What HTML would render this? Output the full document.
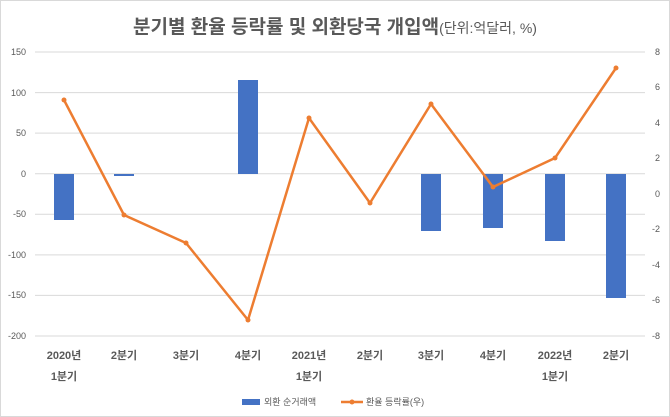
<!DOCTYPE html><html><head><meta charset="utf-8"><style>body{margin:0;background:#fff}svg{display:block;font-family:"Liberation Sans","Noto Sans CJK KR",sans-serif}</style></head><body>
<svg width="670" height="417" viewBox="0 0 670 417">
<rect x="0.5" y="0.5" width="669" height="416" fill="#fff" stroke="#d9d9d9"/>
<text x="335" y="33" text-anchor="middle" font-size="19" font-weight="bold" fill="#595959">분기별 환율 등락률 및 외환당국 개입액<tspan font-size="14" font-weight="normal">(단위:억달러, %)</tspan></text>
<g stroke="#d9d9d9" stroke-width="1">
<line x1="35" x2="645" y1="52" y2="52"/><line x1="35" x2="645" y1="92.6" y2="92.6"/><line x1="35" x2="645" y1="133.1" y2="133.1"/><line x1="35" x2="645" y1="173.7" y2="173.7"/><line x1="35" x2="645" y1="214.3" y2="214.3"/><line x1="35" x2="645" y1="254.9" y2="254.9"/><line x1="35" x2="645" y1="295.4" y2="295.4"/><line x1="35" x2="645" y1="336" y2="336"/>
</g>
<g font-size="9" fill="#595959" text-anchor="end">
<text x="26" y="55">150</text><text x="26" y="96">100</text><text x="26" y="136">50</text><text x="26" y="177">0</text><text x="26" y="217">-50</text><text x="26" y="258">-100</text><text x="26" y="298">-150</text><text x="26" y="339">-200</text>
</g>
<g font-size="9" fill="#595959" text-anchor="end">
<text x="660" y="55">8</text><text x="660" y="90">6</text><text x="660" y="126">4</text><text x="660" y="161">2</text><text x="660" y="197">0</text><text x="660" y="232">-2</text><text x="660" y="268">-4</text><text x="660" y="303">-6</text><text x="660" y="339">-8</text>
</g>
<g fill="#4472c4">
<rect x="54" y="174" width="20" height="46"/>
<rect x="114" y="174" width="20" height="2"/>
<rect x="238" y="80" width="20" height="94"/>
<rect x="421" y="174" width="20" height="57"/>
<rect x="483" y="174" width="20" height="54"/>
<rect x="545" y="174" width="20" height="67"/>
<rect x="606" y="174" width="20" height="124"/>
</g>
<polyline fill="none" stroke="#ed7d31" stroke-width="2.5" stroke-linejoin="round" points="64,100 124,215 186,243 248,320 309,118 370,203 431,104 493,187 555,158 616,68"/>
<g fill="#ed7d31"><circle cx="64" cy="100" r="2.5"/><circle cx="124" cy="215" r="2.5"/><circle cx="186" cy="243" r="2.5"/><circle cx="248" cy="320" r="2.5"/><circle cx="309" cy="118" r="2.5"/><circle cx="370" cy="203" r="2.5"/><circle cx="431" cy="104" r="2.5"/><circle cx="493" cy="187" r="2.5"/><circle cx="555" cy="158" r="2.5"/><circle cx="616" cy="68" r="2.5"/></g>
<g font-size="11" fill="#595959" text-anchor="middle" font-weight="bold">
<text x="64" y="359">2020년</text><text x="64" y="380">1분기</text>
<text x="124" y="359">2분기</text><text x="186" y="359">3분기</text><text x="248" y="359">4분기</text>
<text x="309" y="359">2021년</text><text x="309" y="380">1분기</text>
<text x="370" y="359">2분기</text><text x="431" y="359">3분기</text><text x="493" y="359">4분기</text>
<text x="555" y="359">2022년</text><text x="555" y="380">1분기</text>
<text x="616" y="359">2분기</text>
</g>
<rect x="242" y="399" width="18" height="6" fill="#4472c4"/>
<text x="264" y="405" font-size="9" fill="#595959">외환 순거래액</text>
<line x1="341" x2="363" y1="402" y2="402" stroke="#ed7d31" stroke-width="2.5"/><circle cx="352" cy="402" r="2.5" fill="#ed7d31"/>
<text x="366" y="405" font-size="9" fill="#595959">환율 등락률(우)</text>
</svg></body></html>
